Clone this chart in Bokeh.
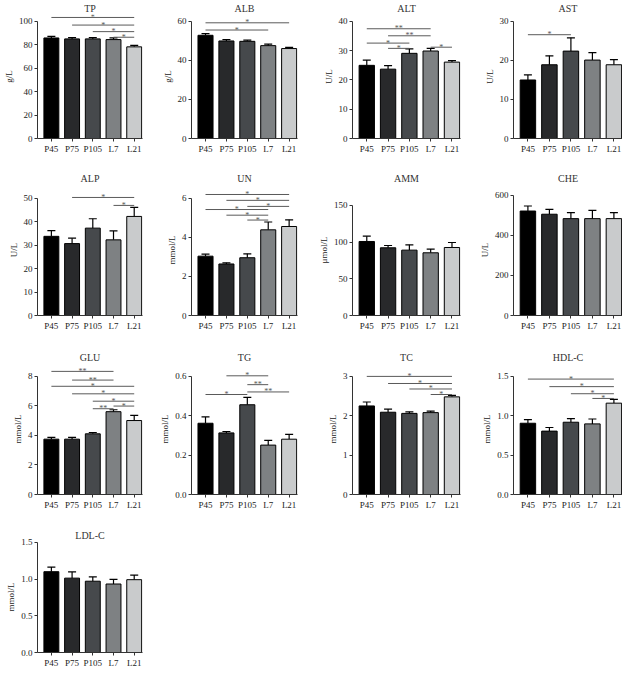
from bokeh.plotting import figure
from bokeh.layouts import gridplot
from bokeh.models import (Range1d, FixedTicker, Whisker, TeeHead, ColumnDataSource,
                          PrintfTickFormatter)
from bokeh.embed import file_html
from bokeh.resources import INLINE
from bokeh.core.properties import value

# ---------------- data ----------------
groups = ["P45", "P75", "P105", "L7", "L21"]
bar_colors = ["#000000", "#28292b", "#46494c", "#7e8183", "#c9cbcc"]

tp_mean = [85.9, 85.1, 85.1, 84.5, 78.3]
tp_sd = [1.3, 1.0, 1.0, 1.4, 1.2]
tp_sig = [("P45", "L21", 103.4, "*"), ("P75", "L21", 96.9, "*"),
          ("P105", "L21", 91.3, "*"), ("L7", "L21", 86.5, "*")]

alb_mean = [52.9, 50.0, 49.8, 47.6, 46.1]
alb_sd = [0.9, 0.7, 0.6, 0.8, 0.6]
alb_sig = [("P45", "L21", 59.3, "*"), ("P45", "L7", 55.6, "*")]

alt_mean = [25.0, 23.7, 29.1, 29.9, 26.1]
alt_sd = [1.8, 1.2, 1.5, 0.9, 0.5]
alt_sig = [("P45", "L7", 37.5, "**"), ("P75", "L7", 35.1, "**"),
           ("P45", "P105", 32.6, "*"), ("P75", "P105", 30.8, "*"),
           ("L7", "L21", 31.2, "*")]

ast_mean = [15.0, 18.9, 22.4, 20.1, 18.9]
ast_sd = [1.3, 2.3, 3.4, 1.9, 1.3]
ast_sig = [("P45", "P105", 26.6, "*")]

alp_mean = [33.8, 30.7, 37.3, 32.3, 42.3]
alp_sd = [2.4, 2.3, 4.0, 3.8, 3.9]
alp_sig = [("P75", "L21", 50.4, "*"), ("L7", "L21", 47.0, "*")]

un_mean = [3.04, 2.64, 2.96, 4.39, 4.56]
un_sd = [0.10, 0.06, 0.20, 0.40, 0.34]
un_sig = [("P45", "L21", 6.20, "*"), ("P75", "L21", 5.90, "*"),
          ("P105", "L21", 5.59, "*"), ("P45", "L7", 5.43, "*"),
          ("P75", "L7", 5.14, "*"), ("P105", "L7", 4.89, "*")]

amm_mean = [100.8, 92.2, 89.0, 85.4, 92.6]
amm_sd = [7.2, 3.1, 7.3, 5.0, 6.8]
amm_sig = []

che_mean = [522, 506, 484, 484, 484]
che_sd = [25, 24, 30, 41, 30]
che_sig = []

glu_mean = [3.75, 3.75, 4.11, 5.61, 5.01]
glu_sd = [0.12, 0.12, 0.09, 0.13, 0.35]
glu_sig = [("P45", "L7", 8.34, "**"), ("P75", "L7", 7.75, "**"),
           ("P45", "L21", 7.33, "*"), ("P75", "L21", 6.82, "*"),
           ("P105", "L21", 6.32, "*"), ("L7", "L21", 5.99, "*"),
           ("P105", "L7", 5.81, "**")]

tg_mean = [0.362, 0.313, 0.456, 0.251, 0.281]
tg_sd = [0.032, 0.007, 0.037, 0.024, 0.024]
tg_sig = [("P75", "L7", 0.603, "*"), ("P105", "L7", 0.558, "**"),
          ("P105", "L21", 0.521, "**"), ("P45", "P105", 0.508, "*")]

tc_mean = [2.25, 2.09, 2.06, 2.08, 2.48]
tc_sd = [0.10, 0.08, 0.04, 0.04, 0.04]
tc_sig = [("P45", "L21", 3.00, "*"), ("P75", "L21", 2.82, "*"),
          ("P105", "L21", 2.68, "*"), ("L7", "L21", 2.54, "*")]

hdl_mean = [0.905, 0.805, 0.918, 0.897, 1.160]
hdl_sd = [0.046, 0.046, 0.046, 0.062, 0.047]
hdl_sig = [("P45", "L21", 1.466, "*"), ("P75", "L21", 1.37, "*"),
           ("P105", "L21", 1.28, "*"), ("L7", "L21", 1.22, "*")]

ldl_mean = [1.102, 1.014, 0.972, 0.934, 0.993]
ldl_sd = [0.063, 0.084, 0.059, 0.063, 0.063]
ldl_sig = []

# title, unit, mean, sd, axis max, ticks, tick format, brackets
panels = [
    ("TP", "g/L", tp_mean, tp_sd, 100, [0, 20, 40, 60, 80, 100], "%d", tp_sig),
    ("ALB", "g/L", alb_mean, alb_sd, 60, [0, 20, 40, 60], "%d", alb_sig),
    ("ALT", "U/L", alt_mean, alt_sd, 40, [0, 10, 20, 30, 40], "%d", alt_sig),
    ("AST", "U/L", ast_mean, ast_sd, 30, [0, 10, 20, 30], "%d", ast_sig),
    ("ALP", "U/L", alp_mean, alp_sd, 50, [0, 10, 20, 30, 40, 50], "%d", alp_sig),
    ("UN", "mmol/L", un_mean, un_sd, 6, [0, 2, 4, 6], "%d", un_sig),
    ("AMM", "\u03bcmol/L", amm_mean, amm_sd, 150, [0, 50, 100, 150], "%d", amm_sig),
    ("CHE", "U/L", che_mean, che_sd, 600, [0, 200, 400, 600], "%d", che_sig),
    ("GLU", "mmol/L", glu_mean, glu_sd, 8, [0, 2, 4, 6, 8], "%d", glu_sig),
    ("TG", "mmol/L", tg_mean, tg_sd, 0.6, [0, 0.2, 0.4, 0.6], "%.1f", tg_sig),
    ("TC", "mmol/L", tc_mean, tc_sd, 3, [0, 1, 2, 3], "%d", tc_sig),
    ("HDL-C", "mmol/L", hdl_mean, hdl_sd, 1.5, [0, 0.5, 1.0, 1.5], "%.1f", hdl_sig),
    ("LDL-C", "mmol/L", ldl_mean, ldl_sd, 1.5, [0, 0.5, 1.0, 1.5], "%.1f", ldl_sig),
]

# ---------------- layout ----------------
FONT = "Liberation Serif"
col_w = [157, 158, 161, 146]
col_rb = [15, 18, 16, 0]
BL = 29
row_h = [170, 179, 178, 143]
BT = 13
row_bb = [32, 34, 33, 18]
# px between frame top and axis top, per panel
axis_off = [7, 7, 7, 7, 14, 14, 21, 11, 13, 13, 13, 13, 1]

AXIS_COL = "#333333"
SIG_COL = "#5a5a5a"


def make_panel(i):
    title, unit, mean, sd, ymax, ticks, fmt, sig = panels[i]
    r, c = divmod(i, 4)
    fh = row_h[r] - BT - row_bb[r]
    off = axis_off[i]
    y_end = ymax * fh / (fh - off)
    p = figure(width=col_w[c], height=row_h[r], output_backend="svg",
               toolbar_location=None, tools="",
               x_range=Range1d(-0.67, 4.4), y_range=Range1d(0, y_end),
               min_border_left=BL, min_border_right=col_rb[c],
               min_border_top=BT, min_border_bottom=row_bb[r])
    p.outline_line_color = None
    p.background_fill_color = "white"
    p.border_fill_color = "white"
    p.xgrid.grid_line_color = None
    p.ygrid.grid_line_color = None

    p.title.text = title
    p.title.align = "center"
    p.title.text_font = FONT
    p.title.text_font_style = "normal"
    p.title.text_font_size = "10px"
    p.title.text_color = "#333333"
    p.title.standoff = 1

    x = list(range(len(groups)))
    upper = [m + s for m, s in zip(mean, sd)]
    src = ColumnDataSource(dict(x=x, top=mean, upper=upper, color=bar_colors))
    p.vbar(x="x", top="top", width=0.72, bottom=0, source=src,
           fill_color="color", line_color="black", line_width=1)
    p.add_layout(Whisker(source=src, base="x", upper="upper", lower="top",
                         dimension="height", line_color="black", line_width=1.2,
                         upper_head=TeeHead(size=8, line_color="black", line_width=1.2),
                         lower_head=None))

    if sig:
        x0 = [groups.index(a) for a, b, y, t in sig]
        x1 = [groups.index(b) for a, b, y, t in sig]
        ys = [y for a, b, y, t in sig]
        labels = [t for a, b, y, t in sig]
        xm = [(a + b) / 2 for a, b in zip(x0, x1)]
        p.segment(x0=x0, y0=ys, x1=x1, y1=ys, line_color=SIG_COL, line_width=1)
        p.text(x=xm, y=ys, text=labels, text_font=value(FONT),
               text_font_size=value("8px"), text_align="center",
               text_baseline="alphabetic", text_color=SIG_COL)

    # axes
    p.yaxis.bounds = (0, ymax)
    p.yaxis.ticker = FixedTicker(ticks=ticks)
    p.yaxis.formatter = PrintfTickFormatter(format=fmt)
    p.yaxis.axis_label = unit
    p.xaxis.ticker = FixedTicker(ticks=x)
    p.xaxis.major_label_overrides = {k: g for k, g in zip(x, groups)}
    for ax in (p.xaxis[0], p.yaxis[0]):
        ax.axis_line_color = AXIS_COL
        ax.axis_line_width = 1
        ax.major_tick_line_color = AXIS_COL
        ax.major_tick_out = 3
        ax.major_tick_in = 0
        ax.minor_tick_line_color = None
        ax.major_label_text_font = FONT
        ax.major_label_text_font_size = "9px"
        ax.major_label_text_color = "#222222"
        ax.major_label_standoff = 2
        ax.axis_label_text_font = FONT
        ax.axis_label_text_font_size = "9px"
        ax.axis_label_text_font_style = "normal"
        ax.axis_label_text_color = "#222222"
        ax.axis_label_standoff = 2
    return p


figs = [make_panel(i) for i in range(len(panels))]
rows = [figs[0:4], figs[4:8], figs[8:12], [figs[12], None, None, None]]
grid = gridplot(rows, toolbar_location=None)

open("out.html", "w").write(file_html(grid, INLINE))
